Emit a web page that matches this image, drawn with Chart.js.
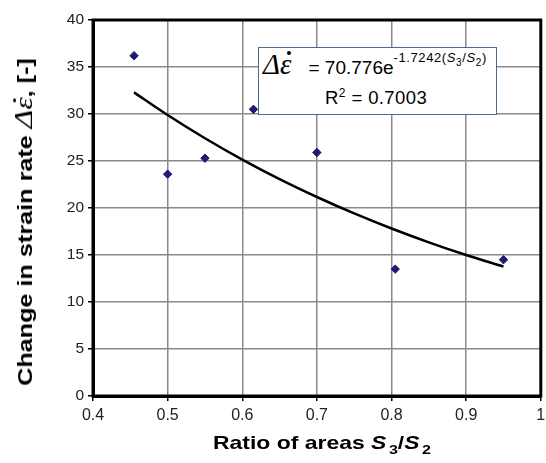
<!DOCTYPE html>
<html>
<head>
<meta charset="utf-8">
<script src="https://cdn.jsdelivr.net/npm/chart.js@4"></script>
<style>
  body { margin: 0; background: #fff; font-family: "Liberation Sans", Arial, sans-serif; }
  #wrap { position: relative; width: 546px; height: 463px; }
  .ytitle { position: absolute; left: 24px; top: 222px; width: 420px; text-align: center;
            transform: translate(-50%, -50%) rotate(-90deg) scaleX(1.26); font-weight: bold; font-size: 20px; white-space: nowrap; }
  .xtitle { position: absolute; left: 213px; top: 432px; font-weight: bold; font-size: 18.5px; white-space: nowrap;
            transform: scaleX(1.24); transform-origin: left top; }
  .xtitle sub { font-size: 13px; margin-left: 2px; }
  .serif { font-family: "Liberation Serif", "Times New Roman", serif; font-style: italic; font-weight: normal; font-size: 25px; }
  .eps { position: relative; display: inline-block; }
  .eps::after { content: ""; position: absolute; left: 0.24em; top: 0.1em; width: 0.13em; height: 0.13em;
                border-radius: 50%; background: currentColor; }
  .eqbox { position: absolute; left: 258px; top: 47px; width: 239px; height: 68px; background: #fff;
           border: 1px solid #4d6b8a; box-sizing: border-box; }
  .eq1 { position: absolute; left: 4px; top: 0px; white-space: nowrap; font-size: 19px; }
  .eq1 .serif { font-size: 29px; margin-right: 17px; }
  .eq1 sup { font-size: 13px; position: relative; top: -5px; letter-spacing: 0.6px; }
  .eq1 sup sub { font-size: 10px; }
  .eq2 { position: absolute; left: 66px; top: 38px; font-size: 18.5px; white-space: nowrap; letter-spacing: 0.4px; }
</style>
</head>
<body>
<div id="wrap">
  <canvas id="chart"></canvas>
  <div class="ytitle">Change in strain rate <span class="serif">&Delta;<span class="eps">&epsilon;</span></span>, [-]</div>
  <div class="xtitle">Ratio of areas <i>S</i><sub>3</sub>/<i>S</i><sub>2</sub></div>
  <div class="eqbox">
    <div class="eq1"><span class="serif">&Delta;<span class="eps">&epsilon;</span></span>= 70.776e<sup>-1.7242(<i>S</i><sub>3</sub>/<i>S</i><sub>2</sub>)</sup></div>
    <div class="eq2">R<sup style="font-size:12px">2</sup> = 0.7003</div>
  </div>
</div>
<script>
// measured points
const ratio = [0.455, 0.5, 0.55, 0.615, 0.7, 0.805, 0.95];
const strainChange = [36.2, 23.6, 25.3, 30.5, 25.9, 13.5, 14.5];

// exponential trend line (70.776e^-1.7242x) read at a few positions
const trendX = [0.455, 0.5, 0.55, 0.6, 0.65, 0.7, 0.75, 0.8, 0.85, 0.9, 0.95];
const trendY = [32.30, 29.89, 27.42, 25.15, 23.07, 21.17, 19.42, 17.82, 16.35, 15.00, 13.76];

const xTicks = [0.4, 0.5, 0.6, 0.7, 0.8, 0.9, 1];
const yTicks = [0, 5, 10, 15, 20, 25, 30, 35, 40];

const points = ratio.map((x, i) => ({ x: x, y: strainChange[i] }));
const trend = trendX.map((x, i) => ({ x: x, y: trendY[i] }));

// thick frame round the plot area
const frame = {
    id: "frame",
    afterDatasetsDraw(chart) {
        const a = chart.chartArea;
        const ctx = chart.ctx;
        ctx.save();
        ctx.strokeStyle = "#000";
        ctx.lineWidth = 3;
        ctx.strokeRect(a.left, a.top, a.right - a.left, a.bottom - a.top);
        ctx.restore();
    }
};

new Chart(document.getElementById("chart"), {
    type: "scatter",
    data: {
        datasets: [
            {
                data: trend,
                showLine: true,
                borderColor: "#000",
                borderWidth: 2.5,
                pointRadius: 0,
                cubicInterpolationMode: "monotone",
                order: 2
            },
            {
                data: points,
                pointStyle: "rectRot",
                pointRadius: 4.2,
                backgroundColor: "#1c1c72",
                borderColor: "#1c1c72",
                order: 1
            }
        ]
    },
    options: {
        responsive: true,
        maintainAspectRatio: false,
        animation: false,
        layout: { padding: { top: 20, right: 2, left: 0, bottom: 0 } },
        plugins: { legend: { display: false }, tooltip: { enabled: false } },
        scales: {
            x: {
                type: "linear",
                min: xTicks[0],
                max: xTicks[xTicks.length - 1],
                afterBuildTicks: s => { s.ticks = xTicks.map(v => ({ value: v })); },
                afterFit: s => { s.height = 67; s.paddingRight = 0; s.paddingLeft = 0; },
                grid: { color: "#8a8a8a", lineWidth: 1.5, tickLength: 5, tickColor: "#000" },
                border: { color: "#000", width: 3 },
                ticks: { color: "#222", font: { family: "Liberation Sans", size: 16 }, padding: 5,
                         callback: v => String(v) }
            },
            y: {
                min: yTicks[0],
                max: yTicks[yTicks.length - 1],
                afterBuildTicks: s => { s.ticks = yTicks.map(v => ({ value: v })); },
                afterFit: s => { s.width = 93; },
                grid: { color: "#8a8a8a", lineWidth: 1.5, tickLength: 5, tickColor: "#000" },
                border: { color: "#000", width: 3 },
                ticks: { color: "#222", font: { family: "Liberation Sans", size: 15.5 }, padding: 4 }
            }
        }
    },
    plugins: [frame]
});
</script>
</body>
</html>
